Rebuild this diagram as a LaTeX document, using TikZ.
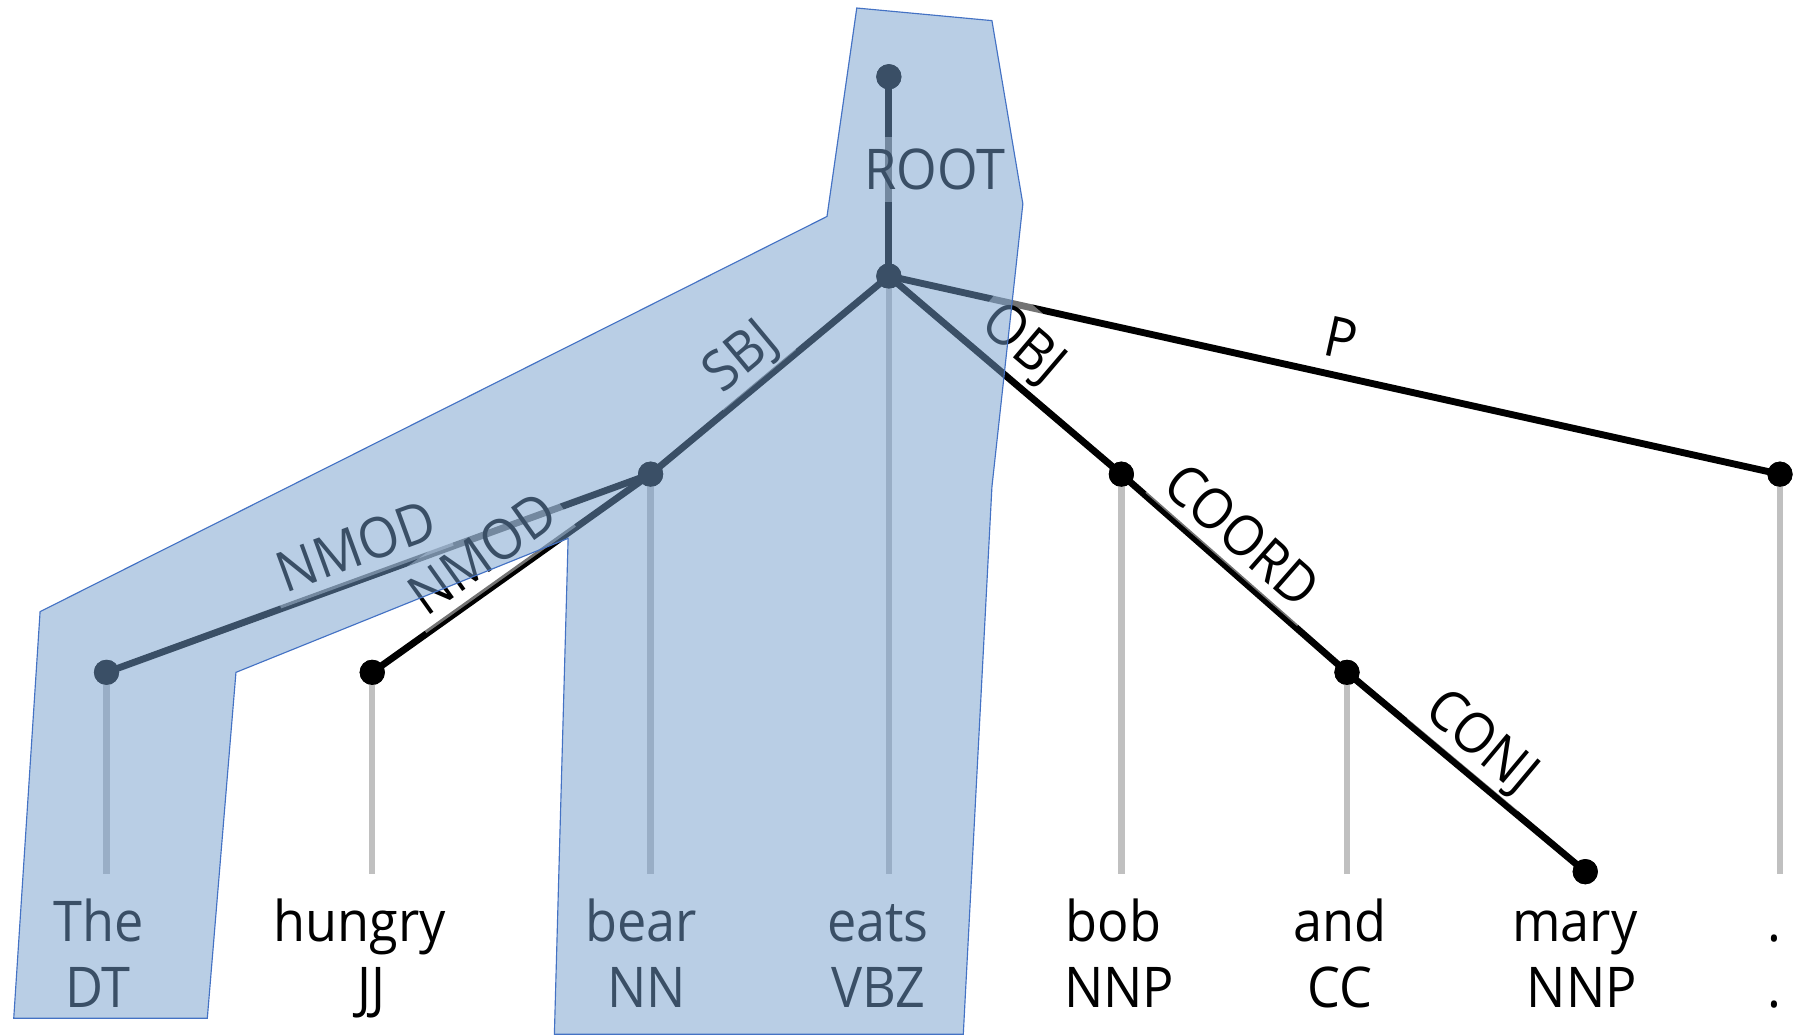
\documentclass[tikz,border=0pt]{standalone}
\usepackage{fontspec}
\setmainfont{Open Sans}[FakeStretch=0.93]
\definecolor{stemgray}{RGB}{192,192,192}
\definecolor{hiliteblue}{RGB}{116,158,204}
\definecolor{hiliteedge}{RGB}{68,114,196}
\begin{document}
\begin{tikzpicture}[x=0.5pt,y=-0.5pt,
  depdot/.style={circle, fill=black, inner sep=0pt, minimum size=11pt},
  deplink/.style={draw=black, line width=3pt},
  stem/.style={draw=stemgray, line width=2.8pt},
  tok/.style={anchor=base, inner sep=0pt, font=\fontsize{24.5pt}{29pt}\selectfont},
  rel/.style={fill=white, fill opacity=0.45, text opacity=1, inner xsep=4pt, inner ysep=5.5pt,
              text height=17.5pt, text depth=0pt, font=\fontsize{24.5pt}{29pt}\selectfont},
  hilite/.style={fill=hiliteblue, fill opacity=0.5, draw=hiliteedge, draw opacity=1, line width=0.5pt, line join=miter}
]
\useasboundingbox (0,0) rectangle (1568,904);

% dependency head points
\node[depdot] (dRoot)   at (776,67)  {};
\node[depdot] (dEats)   at (776,241) {};
\node[depdot] (dBear)   at (568,414) {};
\node[depdot] (dThe)    at (93,587)  {};
\node[depdot] (dHungry) at (325,587) {};
\node[depdot] (dBob)    at (979,414) {};
\node[depdot] (dAnd)    at (1176,587) {};
\node[depdot] (dMary)   at (1384,761) {};
\node[depdot] (dPer)    at (1554,414) {};

% stem ends
\coordinate (sThe)    at (93,763);
\coordinate (sHungry) at (325,763);
\coordinate (sBear)   at (568,763);
\coordinate (sEats)   at (776,763);
\coordinate (sBob)    at (979,763);
\coordinate (sAnd)    at (1176,763);
\coordinate (sPer)    at (1554,763);

\draw[stem] (dThe.center) -- (sThe);
\draw[stem] (dHungry.center) -- (sHungry);
\draw[stem] (dBear.center) -- (sBear);
\draw[stem] (dEats.center) -- (sEats);
\draw[stem] (dBob.center) -- (sBob);
\draw[stem] (dAnd.center) -- (sAnd);
\draw[stem] (dPer.center) -- (sPer);

\draw[deplink] (dRoot.center) -- (dEats.center);
\draw[deplink] (dEats.center) -- (dBear.center);
\draw[deplink] (dBear.center) -- (dThe.center);
\draw[deplink] (dBear.center) -- (dHungry.center);
\draw[deplink] (dEats.center) -- (dBob.center);
\draw[deplink] (dBob.center) -- (dAnd.center);
\draw[deplink] (dAnd.center) -- (dMary.center);
\draw[deplink] (dEats.center) -- (dPer.center);

% redraw dots on top of links
\foreach \n in {dRoot,dEats,dBear,dThe,dHungry,dBob,dAnd,dMary,dPer}
  \fill (\n) circle (5.5pt);

% relation labels
\node[rel] (lRoot)  at (816,148) {ROOT};
\node[rel, rotate=39.76]  (lSbj)   at (645,310) {SBJ};
\node[rel, rotate=20.01]  (lNmodA) at (311,477) {NMOD};
\node[rel, rotate=35.45]  (lNmodB) at (421,483) {NMOD};
\node[rel, rotate=-40.44] (lObj)   at (895,298) {OBJ};
\node[rel, rotate=-12.54] (lP)     at (1171,295) {P};
\node[rel, rotate=-41.29] (lCoord) at (1085,467) {COORD};
\node[rel, rotate=-39.92] (lConj)  at (1295,646) {CONJ};

% tokens
\node[tok] (wThe)    at (86,822)   {The};
\node[tok] (wHungry) at (314,822)  {hungry};
\node[tok] (wBear)   at (560,822)  {bear};
\node[tok] (wEats)   at (766.5,822) {eats};
\node[tok] (wBob)    at (972,822)  {bob};
\node[tok] (wAnd)    at (1170,822) {and};
\node[tok] (wMary)   at (1375,822) {mary};
\node[tok] (wPer)    at (1549,822) {.};

\node[tok] (tThe)    at (85.5,880) {DT};
\node[tok] (tHungry) at (324,880)  {JJ};
\node[tok] (tBear)   at (564.5,880) {NN};
\node[tok] (tEats)   at (767,880)  {VBZ};
\node[tok] (tBob)    at (977,880)  {NNP};
\node[tok] (tAnd)    at (1169.5,880) {CC};
\node[tok] (tMary)   at (1381,880) {NNP};
\node[tok] (tPer)    at (1549,880) {.};

% highlighted subtree overlay
\filldraw[hilite] (748,7) -- (866,18) -- (893,178) -- (866,425) -- (841,903)
  -- (484,903) -- (496,470) -- (206,587) -- (181,889) -- (12,889)
  -- (35,534) -- (722,189) -- cycle;
\end{tikzpicture}
\end{document}
